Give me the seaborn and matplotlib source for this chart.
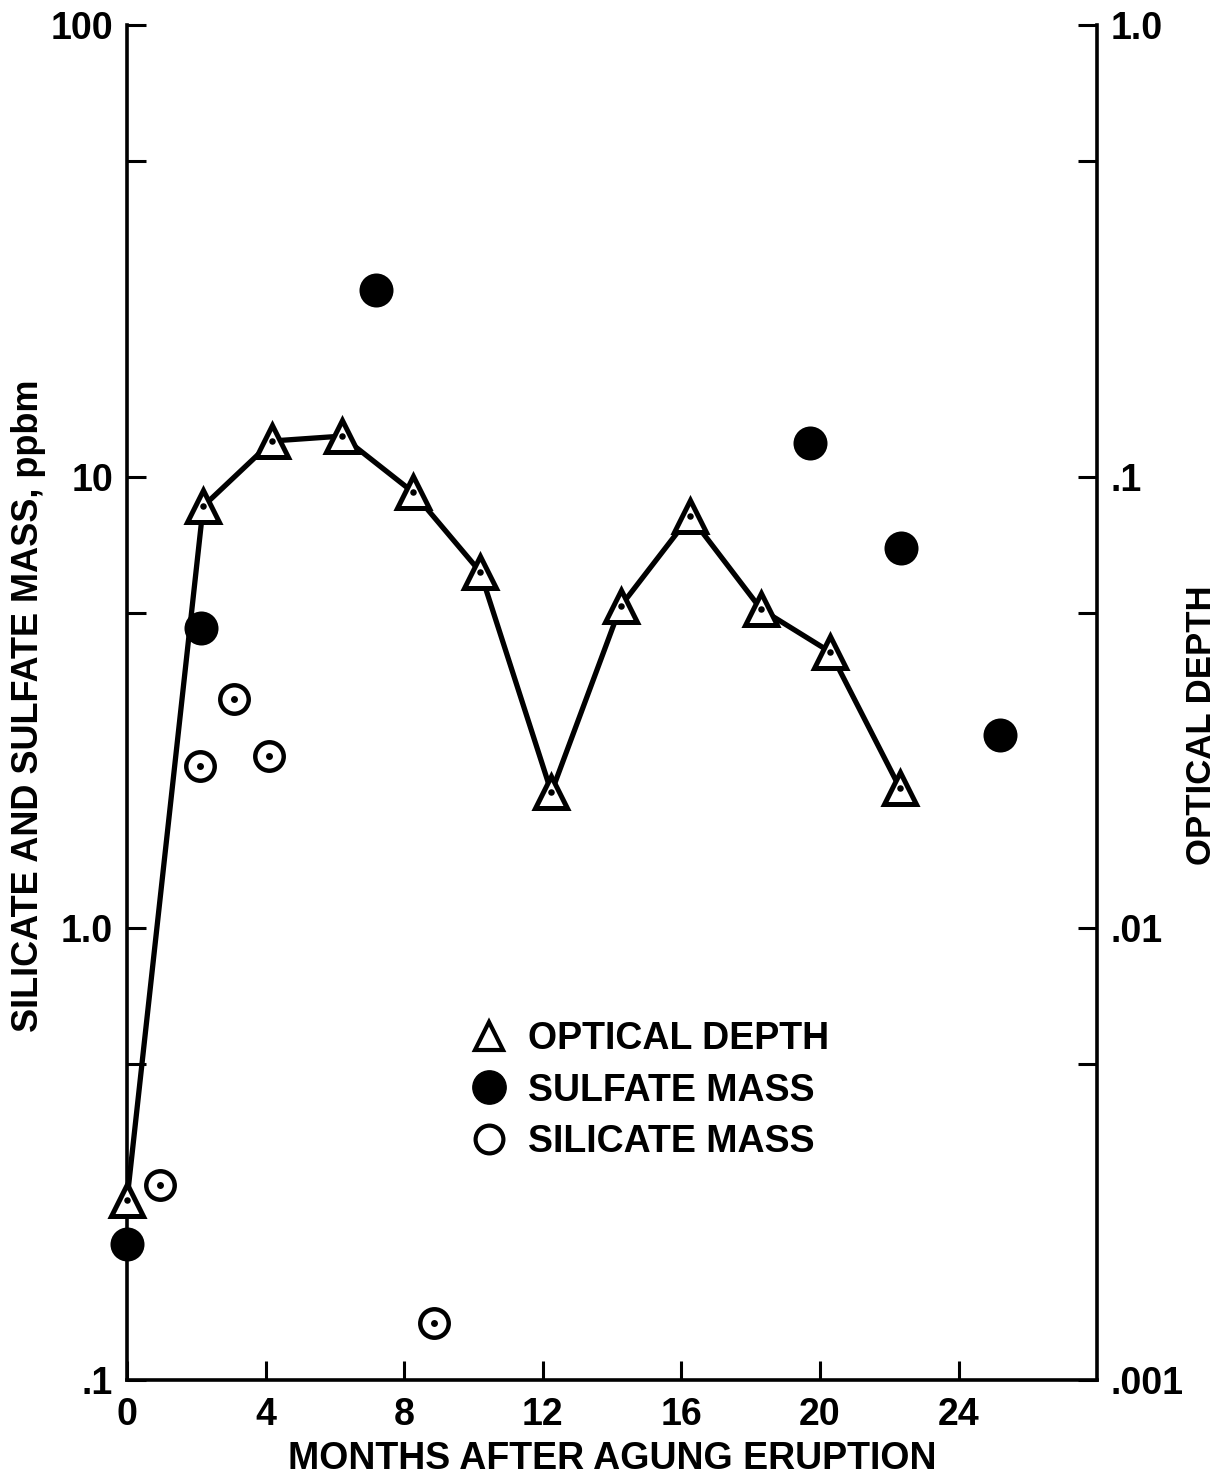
import pandas as pd
import seaborn as sns
import matplotlib.pyplot as plt
from matplotlib.lines import Line2D
from matplotlib.ticker import FixedLocator, FixedFormatter, NullFormatter

# optical depth (right axis)
od_month = [0.0, 2.2, 4.2, 6.2, 8.25, 10.2, 12.25, 14.25, 16.25, 18.3, 20.3, 22.3]
od_value = [0.0025, 0.086, 0.120, 0.123, 0.0925, 0.0615, 0.020, 0.0517, 0.0818, 0.0509, 0.0409, 0.0205]

# sulfate mass, ppbm (left axis)
so4_month = [0.0, 2.15, 7.2, 19.7, 22.35, 25.2]
so4_mass = [0.20, 4.62, 25.9, 11.9, 6.95, 2.68]

# silicate mass, ppbm (left axis)
sil_month = [0.95, 2.1, 3.1, 4.1, 8.85]
sil_mass = [0.27, 2.29, 3.22, 2.41, 0.134]

left_ticks = [0.1, 1.0, 10, 100]
left_labels = ['.1', '1.0', '10', '100']
right_ticks = [0.001, 0.01, 0.1, 1.0]
right_labels = ['.001', '.01', '.1', '1.0']
x_ticks = [0, 4, 8, 12, 16, 20, 24]

sns.set_style("ticks", {'axes.edgecolor': 'black', 'text.color': 'black',
                        'xtick.color': 'black', 'ytick.color': 'black',
                        'axes.labelcolor': 'black'})
plt.rcParams['font.family'] = ['Liberation Sans', 'DejaVu Sans']
plt.rcParams['font.weight'] = 'bold'

fig = plt.figure(figsize=(12.28, 14.75), dpi=100)
ax = fig.add_axes([0.1034, 0.0644, 0.790, 0.9186])
ax2 = ax.twinx()

od = pd.DataFrame({'month': od_month, 'od': od_value})
so4 = pd.DataFrame({'month': so4_month, 'mass': so4_mass})
sil = pd.DataFrame({'month': sil_month, 'mass': sil_mass})

# sulfate & silicate on left axis
sns.scatterplot(data=so4, x='month', y='mass', ax=ax, marker='o', s=600,
                color='black', edgecolor='black', linewidth=0, zorder=3, clip_on=False)
sns.scatterplot(data=sil, x='month', y='mass', ax=ax, marker='o', s=420,
                facecolor='white', edgecolor='black', linewidth=3.2, zorder=3, clip_on=False)
sns.scatterplot(data=sil, x='month', y='mass', ax=ax, marker='o', s=25,
                color='black', linewidth=0, zorder=4, clip_on=False)

# optical depth on right axis
sns.lineplot(data=od, x='month', y='od', ax=ax2, color='black', linewidth=3.8,
             marker='^', markersize=23, markerfacecolor='white',
             markeredgecolor='black', markeredgewidth=3.6, zorder=3, clip_on=False)
sns.scatterplot(data=od, x='month', y='od', ax=ax2, marker='o', s=22,
                color='black', linewidth=0, zorder=5, clip_on=False)

for a in (ax, ax2):
    a.set_yscale('log')
    a.set_xlim(0, 28)
    a.spines['top'].set_visible(False)
    for s in ('left', 'right', 'bottom'):
        a.spines[s].set_linewidth(2.6)
    a.tick_params(which='both', direction='in', length=14, width=2.2,
                  labelsize=27, pad=10)

ax.set_ylim(0.1, 100)
ax2.set_ylim(0.001, 1.0)

ax.yaxis.set_major_locator(FixedLocator(left_ticks))
ax.yaxis.set_major_formatter(FixedFormatter(left_labels))
ax.yaxis.set_minor_locator(FixedLocator([0.5, 5, 50]))
ax.yaxis.set_minor_formatter(NullFormatter())
ax2.yaxis.set_major_locator(FixedLocator(right_ticks))
ax2.yaxis.set_major_formatter(FixedFormatter(right_labels))
ax2.yaxis.set_minor_locator(FixedLocator([0.005, 0.05, 0.5]))
ax2.yaxis.set_minor_formatter(NullFormatter())
ax.set_xticks(x_ticks)
ax.set_xticklabels([str(t) for t in x_ticks])
ax.tick_params(axis='x', pad=12)
ax.spines['right'].set_visible(False)
ax2.spines['left'].set_visible(False)
ax2.spines['bottom'].set_visible(False)

ax.set_xlabel('MONTHS AFTER AGUNG ERUPTION', fontsize=27, fontweight='bold', labelpad=6)
ax.set_ylabel('SILICATE AND SULFATE MASS, ppbm', fontsize=26, fontweight='bold')
ax.yaxis.set_label_coords(-0.083, 0.498)
ax2.set_ylabel('OPTICAL DEPTH', fontsize=25, fontweight='bold')
ax2.yaxis.set_label_coords(1.091, 0.483)

handles = [
    Line2D([], [], linestyle='none', marker='^', markersize=20, markerfacecolor='white',
           markeredgecolor='black', markeredgewidth=3, label='OPTICAL DEPTH'),
    Line2D([], [], linestyle='none', marker='o', markersize=24, color='black', label='SULFATE MASS'),
    Line2D([], [], linestyle='none', marker='o', markersize=20, markerfacecolor='white',
           markeredgecolor='black', markeredgewidth=3, label='SILICATE MASS'),
]
leg = ax2.legend(handles=handles, loc='upper left', bbox_to_anchor=(0.315, 0.29),
                 frameon=False, fontsize=27, handletextpad=0.45, labelspacing=0.42,
                 handlelength=1.2)

fig.savefig('out.png', dpi=100)
